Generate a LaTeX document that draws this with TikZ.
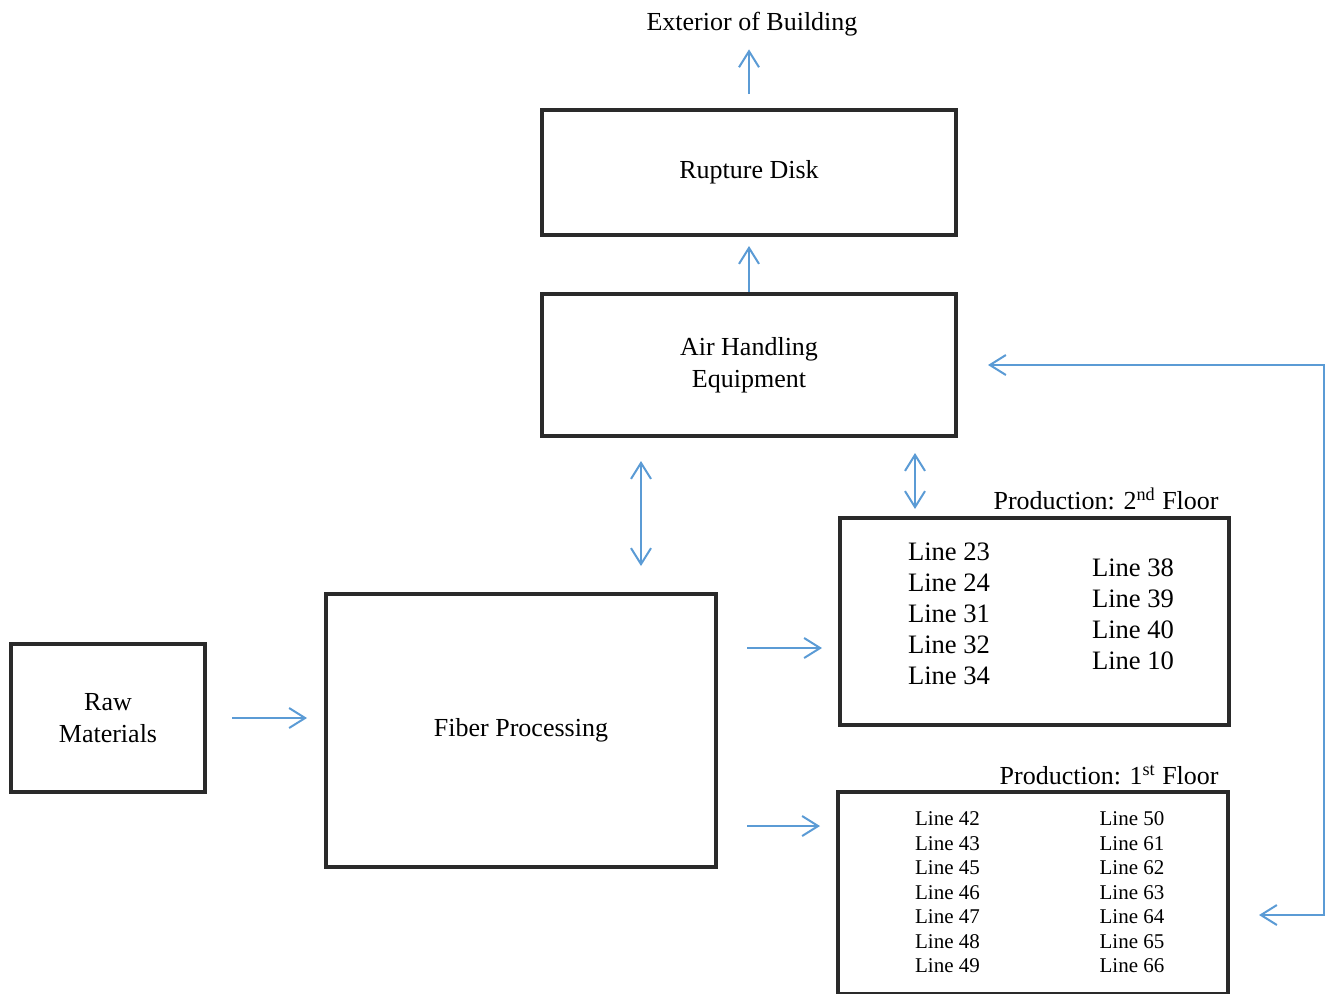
\documentclass[tikz,border=0pt]{standalone}
\usepackage{fontspec}
\setmainfont{Liberation Serif}
\usepackage{xcolor}
\usetikzlibrary{arrows.meta,positioning,calc}
\definecolor{flowblue}{HTML}{5B9BD5}
\definecolor{boxgray}{HTML}{2A2A2A}

\begin{document}
\begin{tikzpicture}[x=0.5pt,y=-0.5pt,
	>={Straight Barb[length=8pt,width=10pt]},
	box/.style={draw=boxgray,line width=2pt,align=center,inner sep=0pt,font=\fontsize{13}{16}\selectfont},
	txt/.style={inner sep=0pt,font=\fontsize{13}{16}\selectfont},
	col2/.style={inner sep=0pt,align=left,font=\fontsize{13.3}{15.5}\selectfont},
	col1/.style={inner sep=0pt,align=left,font=\fontsize{10.5}{12.25}\selectfont},
	flow/.style={draw=flowblue,line width=1pt}]
	\useasboundingbox (0,0) rectangle (1326,993);
	\node[box,minimum width=207pt,minimum height=71pt] (air) at (749,365) {Air Handling\\Equipment};
	\node[box,minimum width=207pt,minimum height=62.5pt] (rupture) [above=27.5pt of air] {Rupture Disk};
	\node[txt] (ext) at (752,24) {Exterior of Building};
	\node[box,minimum width=195pt,minimum height=136.5pt] (fiber) at (521,730.5) {Fiber Processing};
	\node[box,minimum width=97pt,minimum height=74pt] (raw) at (108,718) {Raw\\Materials};
	\node[box,minimum width=194.5pt,minimum height=103.5pt] (floor2) at (1034.5,621.5) {};
	\node[box,minimum width=195pt,minimum height=101pt] (floor1) at (1033,893) {};
	\node[txt] (title2) [above left=3pt and 6pt of floor2.north east] {Production: 2\textsuperscript{nd} Floor};
	\node[txt] (title1) [above left=2.5pt and 5.5pt of floor1.north east] {Production: 1\textsuperscript{st} Floor};
	\node[col2] (lines2a) at (949,614) {Line 23\\Line 24\\Line 31\\Line 32\\Line 34};
	\node[col2] (lines2b) at (1133,614.5) {Line 38\\Line 39\\Line 40\\Line 10};
	\node[col1] (lines1a) at (947.5,892.5) {Line 42\\Line 43\\Line 45\\Line 46\\Line 47\\Line 48\\Line 49};
	\node[col1] (lines1b) at (1132,892.5) {Line 50\\Line 61\\Line 62\\Line 63\\Line 64\\Line 65\\Line 66};
	\coordinate (up2) at ([yshift=41.25pt]fiber.east);
	\coordinate (up1) at ([yshift=-47.75pt]fiber.east);
	\coordinate (duct1) at ([xshift=-54pt]air.south);
	\coordinate (duct2) at ([xshift=-59.75pt]floor2.north);
	\coordinate (corner) at (1324,365);
	\draw[flow,->,shorten >=6.5pt,shorten <=7pt] (rupture.north) -- (rupture.north |- ext.south);
	\draw[flow,->,shorten >=4.5pt] (air.north) -- (air.north |- rupture.south);
	\draw[flow,<->,shorten <=11.5pt,shorten >=13pt] (duct1) -- (duct1 |- fiber.north);
	\draw[flow,<->,shorten <=7.5pt,shorten >=3.5pt] (duct2 |- air.south) -- (duct2);
	\draw[flow,->,shorten <=12.5pt,shorten >=8.5pt] (raw.east) -- (raw.east -| fiber.west);
	\draw[flow,->,shorten <=14.5pt,shorten >=8pt] (up2) -- (up2 -| floor2.west);
	\draw[flow,->,shorten <=14.5pt,shorten >=8pt] (up1) -- (up1 -| floor1.west);
	\draw[flow,<->,shorten <=15pt,shorten >=14.5pt] (air.east) -- (corner) |- ($(floor1.east)+(0,22)$);
\end{tikzpicture}
\end{document}
